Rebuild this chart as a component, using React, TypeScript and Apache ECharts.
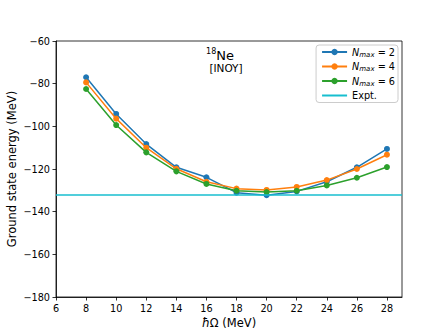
import React, { useEffect, useRef } from "react";
import * as echarts from "echarts";

const hbarOmega = [8, 10, 12, 14, 16, 18, 20, 22, 24, 26, 28];
const nmax2 = [-77.0, -94.2, -108.3, -119.2, -123.9, -131.1, -132.3, -130.5, -126.0, -119.2, -110.6];
const nmax4 = [-79.4, -96.4, -110.0, -119.9, -126.0, -129.2, -129.8, -128.4, -125.2, -120.0, -113.3];
const nmax6 = [-82.5, -99.4, -112.2, -121.1, -127.0, -130.2, -130.8, -130.2, -127.7, -124.1, -119.1];
const exptEnergy = -132.2;
const xTickValues = [6, 8, 10, 12, 14, 16, 18, 20, 22, 24, 26, 28];
const yTickValues = [-180, -160, -140, -120, -100, -80, -60];
const seriesNames = ["Nmax=2", "Nmax=4", "Nmax=6", "Expt."];
const seriesColors = ["#1f77b4", "#ff7f0e", "#2ca02c", "#17becf"];

const FONT = "DejaVu Sans";

export default function App() {
  const ref = useRef<HTMLDivElement>(null);
  useEffect(() => {
    if (!ref.current) return;
    const chart = echarts.init(ref.current, null, { renderer: "svg" });
    const dataSets = [nmax2, nmax4, nmax6];
    const lineSeries = dataSets.map((arr, i) => ({
      name: seriesNames[i],
      type: "line",
      data: hbarOmega.map((x, j) => [x, arr[j]]),
      symbol: "circle",
      symbolSize: 6,
      showSymbol: true,
      itemStyle: { color: seriesColors[i] },
      lineStyle: { color: seriesColors[i], width: 1.5 },
      z: 2 + i,
    }));
    const exptSeries = {
      name: seriesNames[3],
      type: "line",
      data: [
        [6, exptEnergy],
        [29, exptEnergy],
      ],
      symbol: "none",
      showSymbol: false,
      itemStyle: { color: seriesColors[3] },
      lineStyle: { color: seriesColors[3], width: 1.5 },
      z: 6,
    };
    const fmtMinus = (v: number) => (v < 0 ? "\u2212" + Math.abs(v) : String(v));
    chart.setOption({
      animation: false,
      textStyle: { fontFamily: FONT },
      grid: {
        left: 56,
        top: 41,
        right: 45,
        bottom: 38,
        show: true,
        borderColor: "#000",
        borderWidth: 0.8,
        backgroundColor: "transparent",
      },
      xAxis: {
        type: "value",
        min: 6,
        max: 29,
        interval: 2,
        axisLine: { show: true, onZero: false, lineStyle: { color: "#000", width: 0.8 } },
        axisTick: { show: true, length: 3.5, lineStyle: { color: "#000", width: 0.8 }, customValues: xTickValues },
        axisLabel: {
          color: "#000",
          fontSize: 9.7,
          fontFamily: FONT,
          margin: 6,
          customValues: xTickValues,
          formatter: fmtMinus,
        },
        splitLine: { show: false },
      },
      yAxis: {
        type: "value",
        min: -180,
        max: -60,
        interval: 20,
        axisLine: { show: true, onZero: false, lineStyle: { color: "#000", width: 0.8 } },
        axisTick: { show: true, length: 3.5, lineStyle: { color: "#000", width: 0.8 }, customValues: yTickValues },
        axisLabel: {
          color: "#000",
          fontSize: 9.7,
          fontFamily: FONT,
          margin: 6,
          customValues: yTickValues,
          formatter: fmtMinus,
        },
        splitLine: { show: false },
      },
      legend: {
        orient: "vertical",
        right: 49,
        top: 45,
        align: "left",
        padding: [2, 3, 2, 5],
        itemGap: 3.5,
        itemWidth: 25,
        itemHeight: 8,
        borderColor: "#cccccc",
        borderWidth: 1,
        borderRadius: 3,
        backgroundColor: "rgba(255,255,255,0.8)",
        data: [
          seriesNames[0],
          seriesNames[1],
          seriesNames[2],
          { name: seriesNames[3], itemStyle: { color: "rgba(0,0,0,0)", opacity: 0, borderWidth: 0 } },
        ],
        formatter: (name: string) => {
          if (name === "Expt.") return "{t|Expt.}";
          const n = name.split("=")[1];
          return "{i|N}{s|max}{t| = " + n + "}";
        },
        textStyle: {
          fontFamily: FONT,
          fontSize: 9.7,
          color: "#000",
          rich: {
            i: { fontFamily: FONT, fontSize: 9.7, fontStyle: "italic", lineHeight: 12, color: "#000" },
            s: { fontFamily: FONT, fontSize: 7, fontStyle: "italic", lineHeight: 7, verticalAlign: "bottom", color: "#000" },
            t: { fontFamily: FONT, fontSize: 9.7, lineHeight: 12, color: "#000" },
          },
        },
      },
      graphic: [
        {
          type: "text",
          x: 220,
          y: 55,
          style: {
            text: "{sup|18}{b|Ne}",
            align: "center",
            verticalAlign: "middle",
            rich: {
              sup: { fontFamily: FONT, fontSize: 8, lineHeight: 8, verticalAlign: "top", fill: "#000" },
              b: { fontFamily: FONT, fontSize: 13, lineHeight: 16, fill: "#000" },
            },
          },
        },
        {
          type: "text",
          x: 226,
          y: 68,
          style: {
            text: "[INOY]",
            align: "center",
            verticalAlign: "middle",
            fontFamily: FONT,
            fontSize: 10.5,
            fill: "#000",
          },
        },
        {
          type: "text",
          x: 12,
          y: 169,
          rotation: Math.PI / 2,
          style: {
            text: "Ground state energy (MeV)",
            align: "center",
            verticalAlign: "middle",
            fontFamily: FONT,
            fontSize: 11.5,
            fill: "#000",
          },
        },
        {
          type: "text",
          x: 229,
          y: 323,
          style: {
            text: "{i|\u0127}{n|\u03a9 (MeV)}",
            align: "center",
            verticalAlign: "middle",
            rich: {
              i: { fontFamily: FONT, fontSize: 11.5, fontStyle: "italic", fill: "#000" },
              n: { fontFamily: FONT, fontSize: 11.5, fill: "#000" },
            },
          },
        },
      ],
      series: [...lineSeries, exptSeries],
    });
    return () => chart.dispose();
  }, []);
  return (
    <div
      ref={ref}
      style={{ position: "absolute", left: 0, top: 0, width: 447, height: 335, background: "#fff" }}
    />
  );
}
